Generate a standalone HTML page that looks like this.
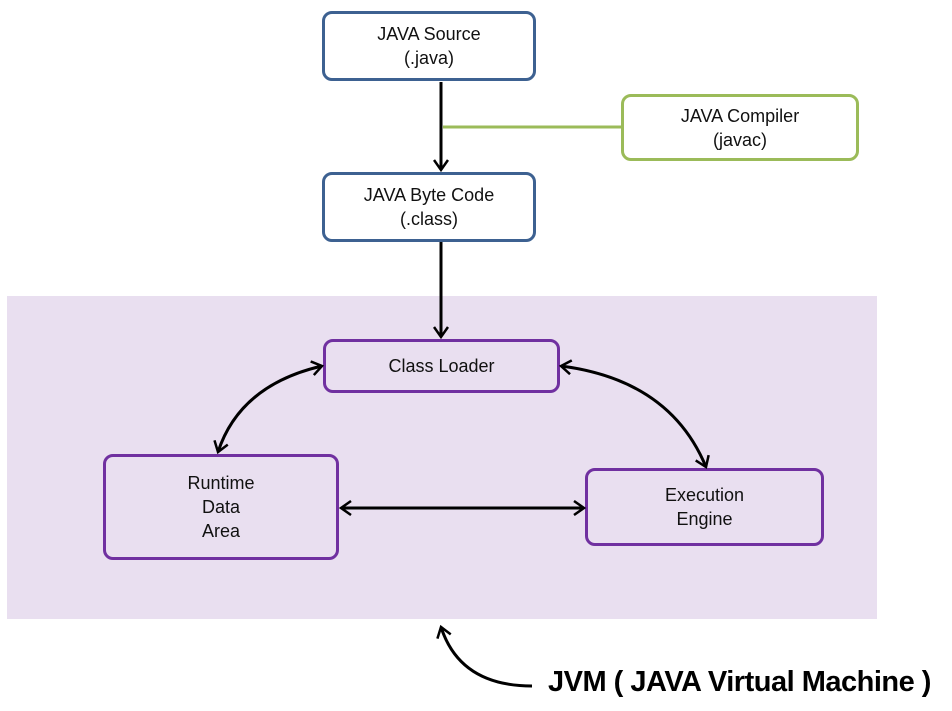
<!DOCTYPE html>
<html><head><style>
body{margin:0;width:952px;height:711px;background:#fff;position:relative;overflow:hidden;font-family:"Liberation Sans",sans-serif;}
.b{position:absolute;box-sizing:border-box;border-radius:10px;background:#fff;display:flex;align-items:center;justify-content:center;text-align:center;font-size:18px;line-height:24px;color:#111;}
.bl{border:3px solid #3d6191;}
.g{border:3px solid #9bbb59;}
.p{border:3px solid #7030a0;background:#e9dff0;}
</style></head><body>
<div style="position:absolute;left:7px;top:296px;width:870px;height:323px;background:#e9dff0"></div>
<div class="b bl" style="left:322px;top:11px;width:214px;height:70px">JAVA Source<br>(.java)</div>
<div class="b g" style="left:621px;top:94px;width:238px;height:67px">JAVA Compiler<br>(javac)</div>
<div class="b bl" style="left:322px;top:172px;width:214px;height:70px">JAVA Byte Code<br>(.class)</div>
<div class="b p" style="left:323px;top:339px;width:237px;height:54px">Class Loader</div>
<div class="b p" style="left:103px;top:454px;width:236px;height:106px">Runtime<br>Data<br>Area</div>
<div class="b p" style="left:585px;top:468px;width:239px;height:78px">Execution<br>Engine</div>
<svg style="position:absolute;left:0;top:0" width="952" height="711">
<defs><marker id="a" markerWidth="16" markerHeight="16" refX="12" refY="8" orient="auto-start-reverse" markerUnits="userSpaceOnUse"><path d="M2,1 L12,8 L2,15" fill="none" stroke="#000" stroke-width="2.5"/></marker></defs>
<g stroke="#000" stroke-width="3" fill="none">
<line x1="441" y1="82" x2="441" y2="170" marker-end="url(#a)"/>
<line x1="441" y1="242" x2="441" y2="337" marker-end="url(#a)"/>
<path d="M322,366 Q240,385 218,452" marker-start="url(#a)" marker-end="url(#a)"/>
<path d="M561,366 Q670,380 706,467" marker-start="url(#a)" marker-end="url(#a)"/>
<line x1="341" y1="508" x2="584" y2="508" marker-start="url(#a)" marker-end="url(#a)"/>
<path d="M532,686 Q460,686 441,627" marker-end="url(#a)"/>
</g>
<line x1="443" y1="127" x2="621" y2="127" stroke="#9bbb59" stroke-width="3"/>
</svg>
<div style="position:absolute;left:548px;top:666px;font-size:29px;font-weight:bold;color:#000;white-space:nowrap;letter-spacing:-0.5px">JVM ( JAVA Virtual Machine )</div>
</body></html>
